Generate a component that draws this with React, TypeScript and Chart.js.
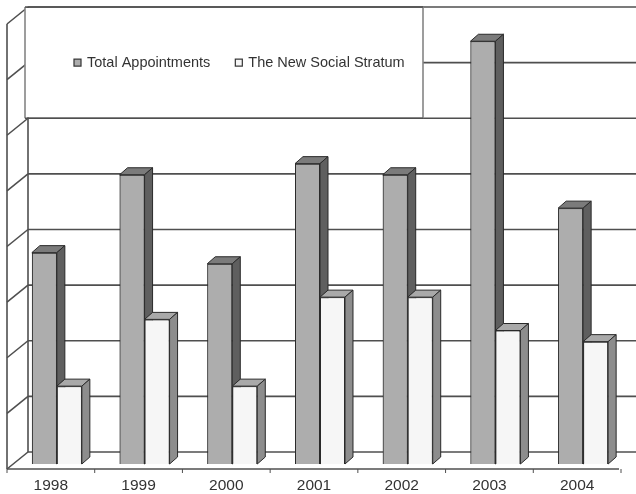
import React, { useEffect, useRef } from 'react';
import { Chart, registerables } from 'chart.js';

Chart.register(...registerables);

const categories = ['1998', '1999', '2000', '2001', '2002', '2003', '2004'];
const seriesNames = ['Total Appointments', 'The New Social Stratum'];
const totalAppointments = [38, 52, 36, 54, 52, 76, 46];
const newSocialStratum = [14, 26, 14, 30, 30, 24, 22];
const gridValues = [0, 10, 20, 30, 40, 50, 60, 70, 80];

const FRONT_COLORS = ['#adadad', '#f6f6f6'];
const TOP_COLORS = ['#7b7b7b', '#a9a9a9'];
const SIDE_COLORS = ['#5f5f5f', '#8d8d8d'];
const GRID_COLOR = '#4f4f4f';
const EDGE_COLOR = '#2a2a2a';
const FONT = '"Liberation Sans", Arial, sans-serif';

// 3D projection offsets relative to the plane of the bars' front faces
const BACK = { dx: 15, dy: -12 };
const FRONT = { dx: -6, dy: 5 };
const BAR_DEPTH = { dx: 8, dy: -7 };

function poly(ctx: CanvasRenderingContext2D, pts: number[][], fill: string) {
  ctx.beginPath();
  ctx.moveTo(pts[0][0], pts[0][1]);
  for (let i = 1; i < pts.length; i++) ctx.lineTo(pts[i][0], pts[i][1]);
  ctx.closePath();
  ctx.fillStyle = fill;
  ctx.fill();
  ctx.strokeStyle = EDGE_COLOR;
  ctx.lineWidth = 1;
  ctx.stroke();
}

function line(ctx: CanvasRenderingContext2D, x1: number, y1: number, x2: number, y2: number) {
  ctx.beginPath();
  ctx.moveTo(x1, y1);
  ctx.lineTo(x2, y2);
  ctx.stroke();
}

const threeD = {
  id: 'threeD',
  beforeDatasetsDraw(chart: any) {
    const { ctx, chartArea } = chart;
    const x = chart.scales.x;
    const y = chart.scales.y;
    const maxV = gridValues[gridValues.length - 1];
    const backLeft = chartArea.left + BACK.dx;
    const frontLeft = chartArea.left + FRONT.dx;
    const depthY = FRONT.dy - BACK.dy;
    ctx.save();
    ctx.strokeStyle = GRID_COLOR;
    ctx.lineWidth = 1.6;
    gridValues.forEach((v) => {
      const yb = y.getPixelForValue(v) + BACK.dy;
      line(ctx, backLeft, yb, chart.width, yb);
      line(ctx, backLeft, yb, frontLeft, yb + depthY);
    });
    const yTopB = y.getPixelForValue(maxV) + BACK.dy;
    const yBotB = y.getPixelForValue(0) + BACK.dy;
    const yTopF = y.getPixelForValue(maxV) + FRONT.dy;
    const yBotF = y.getPixelForValue(0) + FRONT.dy;
    line(ctx, backLeft, yTopB, backLeft, yBotB);
    line(ctx, frontLeft, yTopF, frontLeft, yBotF);
    const rightF = chartArea.right + FRONT.dx - 2;
    line(ctx, frontLeft, yBotF, rightF, yBotF);
    ctx.lineWidth = 1;
    for (let i = 0; i <= categories.length; i++) {
      const bx = x.getPixelForValue(i - 0.5) + FRONT.dx;
      line(ctx, bx, yBotF, bx, yBotF + 4);
    }

    // legend box
    const boxL = backLeft - 3;
    const boxR = 423;
    const boxT = yTopB;
    const boxB = y.getPixelForValue(60) + BACK.dy;
    ctx.fillStyle = '#ffffff';
    ctx.fillRect(boxL, boxT + 1, boxR - boxL, boxB - boxT - 2);
    ctx.strokeStyle = '#858585';
    ctx.lineWidth = 1.6;
    line(ctx, boxL, boxT, boxL, boxB);
    line(ctx, boxR, boxT, boxR, boxB);
    ctx.strokeStyle = GRID_COLOR;
    line(ctx, boxL, boxT, boxR, boxT);
    line(ctx, boxL, boxB, boxR, boxB);

    const ly = y.getPixelForValue(70) + BACK.dy;
    ctx.font = `14.5px ${FONT}`;
    ctx.textBaseline = 'middle';
    ctx.textAlign = 'left';
    let mx = boxL + 49;
    chart.data.datasets.forEach((ds: any, d: number) => {
      ctx.fillStyle = FRONT_COLORS[d];
      ctx.fillRect(mx, ly - 3.5, 7, 7);
      ctx.strokeStyle = '#333';
      ctx.lineWidth = 1.2;
      ctx.strokeRect(mx, ly - 3.5, 7, 7);
      ctx.fillStyle = '#333';
      const tx = mx + 13;
      ctx.fillText(ds.label, tx, ly);
      mx = tx + ctx.measureText(ds.label).width + 25;
    });
    ctx.restore();
  },
  afterDatasetsDraw(chart: any) {
    const { ctx } = chart;
    const metas = chart.data.datasets.map((_: any, d: number) => chart.getDatasetMeta(d));
    ctx.save();
    for (let i = 0; i < categories.length; i++) {
      metas.forEach((meta: any, d: number) => {
        const el = meta.data[i];
        if (!el) return;
        el.draw(ctx);
        const p = el.getProps(['x', 'y', 'base', 'width'], true);
        const l = p.x - p.width / 2;
        const r = p.x + p.width / 2;
        const t = Math.min(p.y, p.base);
        const b = Math.max(p.y, p.base);
        const { dx, dy } = BAR_DEPTH;
        poly(ctx, [[l, t], [r, t], [r + dx, t + dy], [l + dx, t + dy]], TOP_COLORS[d]);
        poly(ctx, [[r, t], [r + dx, t + dy], [r + dx, b + dy], [r, b]], SIDE_COLORS[d]);
      });
    }
    ctx.restore();
  },
};

export default function App() {
  const ref = useRef<HTMLCanvasElement>(null);
  useEffect(() => {
    if (!ref.current) return;
    const chart = new Chart(ref.current, {
      type: 'bar',
      data: {
        labels: categories,
        datasets: [
          {
            label: seriesNames[0],
            data: totalAppointments,
            backgroundColor: FRONT_COLORS[0],
            borderColor: EDGE_COLOR,
            borderWidth: 1,
          },
          {
            label: seriesNames[1],
            data: newSocialStratum,
            backgroundColor: FRONT_COLORS[1],
            borderColor: EDGE_COLOR,
            borderWidth: 1,
          },
        ],
      },
      options: {
        animation: false,
        responsive: true,
        maintainAspectRatio: false,
        layout: { padding: { left: 13, right: 9, top: 19, bottom: 0 } },
        datasets: { bar: { categoryPercentage: 0.57, barPercentage: 1.0 } },
        plugins: { legend: { display: false }, tooltip: { enabled: false } },
        scales: {
          x: {
            grid: { display: false, drawTicks: false },
            border: { display: false },
            ticks: {
              color: '#333',
              font: { family: FONT, size: 15.5 },
              padding: 12,
              labelOffset: -6,
              maxRotation: 0,
            },
            afterFit: (scale: any) => {
              scale.height = 30;
            },
          },
          y: {
            display: false,
            min: 0,
            max: 80,
            ticks: { stepSize: 10 },
          },
        },
      },
      plugins: [threeD],
    });
    return () => chart.destroy();
  }, []);
  return (
    <div style={{ position: 'fixed', left: 0, top: 0, width: 636, height: 494, background: '#fff' }}>
      <canvas ref={ref} />
    </div>
  );
}
